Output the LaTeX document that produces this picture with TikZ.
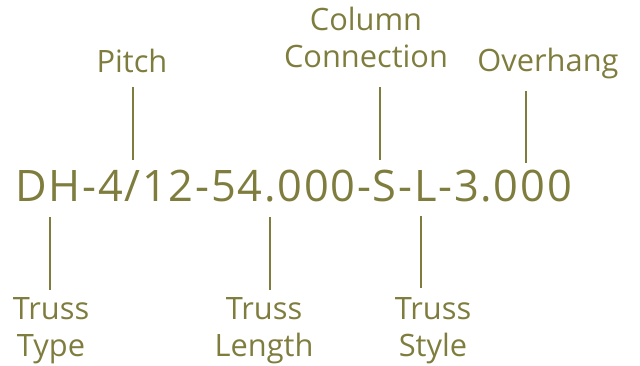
\documentclass[tikz,border=0pt]{standalone}
\usepackage{fontspec}
\setmainfont[Ligatures=NoCommon]{Open Sans}
\newfontfamily\codefont[Ligatures=NoCommon,LetterSpace=4]{Open Sans}
\definecolor{trussolive}{RGB}{127,125,62}
\begin{document}
\begin{tikzpicture}[x=1pt,y=1pt,
  lbl/.style={font=\fontsize{30.8}{37}\selectfont, text=trussolive, inner sep=0pt, align=center, anchor=base},
  lead/.style={draw=trussolive, line width=2pt}]
\useasboundingbox (0,0) rectangle (640,366);
\node[anchor=base west, inner sep=0pt, text=trussolive, font=\codefont\fontsize{43.4}{50}\selectfont] (code) at (15,164) {DH-4/12-54.000-S-L-3.000};
% top labels
\node[lbl] (pitch) at (132,293) {Pitch};
\node[lbl] (colconn) at (366,298) {Column\\Connection};
\node[lbl] (overhang) at (548,294) {Overhang};
% bottom labels
\node[lbl] (ttype) at (51,9) {Truss\\Type};
\node[lbl] (tlength) at (264,9) {Truss\\Length};
\node[lbl] (tstyle) at (433,9) {Truss\\Style};
% leader end points
\coordinate (pA) at (133,279); \coordinate (pB) at (133,206);
\coordinate (cA) at (380,279); \coordinate (cB) at (380,206);
\coordinate (oA) at (526,275); \coordinate (oB) at (526,203);
\coordinate (yA) at (50,149);  \coordinate (yB) at (50,76);
\coordinate (lA) at (270,149); \coordinate (lB) at (270,76);
\coordinate (sA) at (421,150); \coordinate (sB) at (421,78);
\draw[lead] (pA) -- (pB);
\draw[lead] (cA) -- (cB);
\draw[lead] (oA) -- (oB);
\draw[lead] (yA) -- (yB);
\draw[lead] (lA) -- (lB);
\draw[lead] (sA) -- (sB);
\end{tikzpicture}
\end{document}
